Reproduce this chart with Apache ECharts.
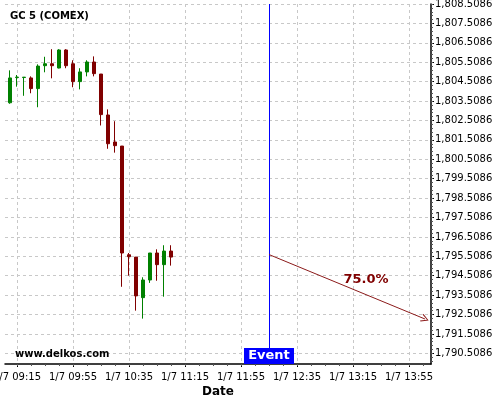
<!DOCTYPE html>
<html><head><meta charset="utf-8">
<script src="https://cdn.jsdelivr.net/npm/echarts@6/dist/echarts.min.js"></script>
<style>html,body{margin:0;padding:0;background:#fff}#c{width:500px;height:400px}</style>
</head><body><div id="c"></div>
<script>
// ---- data ----
const times = ['09:10','09:15','09:20','09:25','09:30','09:35','09:40','09:45','09:50','09:55','10:00','10:05',
               '10:10','10:15','10:20','10:25','10:30','10:35','10:40','10:45','10:50','10:55','11:00','11:05'];
const opens  = [1803.42,1804.72,1804.72,1804.70,1804.15,1805.33,1805.43,1805.21,1806.14,1805.43,1804.51,1805.01,
                1805.52,1804.90,1802.79,1801.40,1801.19,1795.59,1795.47,1793.38,1794.29,1795.68,1795.08,1795.78];
const closes = [1804.70,1804.74,1804.74,1804.15,1805.31,1805.43,1805.33,1806.14,1805.33,1804.51,1805.01,1805.52,
                1804.92,1802.81,1801.31,1801.21,1795.68,1795.49,1793.47,1794.29,1795.68,1795.08,1795.78,1795.47];
const lows   = [1803.37,1804.25,1803.78,1803.91,1803.19,1804.99,1804.68,1805.19,1805.20,1804.22,1804.11,1804.78,
                1804.78,1802.25,1801.05,1800.85,1793.94,1794.51,1792.71,1792.30,1794.14,1794.25,1793.43,1795.03];
const highs  = [1805.09,1804.85,1804.74,1804.78,1805.40,1805.79,1806.18,1806.18,1806.18,1805.61,1805.20,1805.61,
                1805.81,1804.90,1803.08,1802.47,1801.19,1795.68,1795.47,1794.43,1795.68,1795.87,1796.08,1796.08];
const xTickLabels = ['09:15','09:55','10:35','11:15','11:55','12:35','13:15','13:55'];
const yTickValues = [1790.5086,1791.5086,1792.5086,1793.5086,1794.5086,1795.5086,1796.5086,1797.5086,1798.5086,
                     1799.5086,1800.5086,1801.5086,1802.5086,1803.5086,1804.5086,1805.5086,1806.5086,1807.5086,1808.5086];
const eventTime = '12:15';
const eventText = 'Event';
const arrowStart = ['12:15', 1795.60];
const arrowEnd   = ['14:06:24', 1792.28];
const probText = '75.0%';
const probPos = ['13:24:20', 1794.29];
const titleText = 'GC 5 (COMEX)';
const watermark = 'www.delkos.com';

// ---- helpers ----
function toMin(s){const p=s.split(':').map(Number);return p[0]*60+p[1]+(p[2]||0)/60;}
function pad(n){return (n<10?'0':'')+n;}
function fmtTime(v){const m=Math.round(v);return '1/7 '+pad(Math.floor(m/60))+':'+pad(m%60);}
function fmtPrice(v){const s=Number(v).toFixed(4);const [a,b]=s.split('.');return a.replace(/\B(?=(\d{3})+(?!\d))/g,',')+'.'+b;}

const xMin = toMin('09:06:26'), xMax = toMin('14:10:43');
const yMin = 1789.9616, yMax = 1808.5086;
const xTicks = xTickLabels.map(toMin);
const xMinor = []; for (let t = toMin('09:05'); t <= xMax; t += 10) if (t >= xMin) xMinor.push(t);
const yMinor = []; for (let k = 0; k < 200; k++) { const v = 1789.9086 + 0.2*k; if (v >= yMin - 1e-9 && v <= yMax + 1e-9) yMinor.push(+v.toFixed(4)); }

const candleData = times.map((t,i)=>[toMin(t), opens[i], closes[i], lows[i], highs[i]]);

const gridLine = {show:true, lineStyle:{color:'#c8c8c8', width:1, type:[3,3]}};
const font = 'DejaVu Sans';

const chart = echarts.init(document.getElementById('c'), null, {renderer:'canvas'});
chart.setOption({
  animation:false,
  textStyle:{fontFamily:font},
  title:[
    {text:titleText, left:5, top:6, textStyle:{fontSize:10, fontWeight:'bold', color:'#000', fontFamily:font}},
    {text:watermark, left:10, top:344, textStyle:{fontSize:10, fontWeight:'bold', color:'#000', fontFamily:font}}
  ],
  grid:{left:5, right:69, top:4, bottom:36, containLabel:false, outerBoundsMode:'none'},
  xAxis:[
    {type:'value', min:xMin, max:xMax, position:'bottom',
     name:'Date', nameLocation:'middle', nameGap:22, nameMoveOverlap:false,
     nameTextStyle:{fontSize:12, fontWeight:'bold', color:'#000', fontFamily:font},
     axisLine:{show:true, onZero:false, lineStyle:{color:'#000', width:1.5}},
     axisTick:{show:true, customValues:xTicks, length:3, lineStyle:{color:'#000'}},
     axisLabel:{customValues:xTicks, formatter:fmtTime, fontSize:10, color:'#000', margin:8, fontFamily:font},
     splitLine:gridLine},
    {type:'value', min:xMin, max:xMax, position:'bottom', gridIndex:0,
     axisLine:{show:false}, axisLabel:{show:false}, splitLine:{show:false},
     axisTick:{show:true, customValues:xMinor, length:2, lineStyle:{color:'#555'}}}
  ],
  yAxis:[
    {type:'value', min:yMin, max:yMax, position:'right', scale:true,
     axisLine:{show:true, lineStyle:{color:'#000', width:1.5}},
     axisTick:{show:true, customValues:yTickValues, length:3, lineStyle:{color:'#000'}},
     axisLabel:{customValues:yTickValues, formatter:fmtPrice, fontSize:10, color:'#000', margin:4, fontFamily:font},
     splitLine:gridLine},
    {type:'value', min:yMin, max:yMax, position:'right', scale:true,
     axisLine:{show:false}, axisLabel:{show:false}, splitLine:{show:false},
     axisTick:{show:true, customValues:yMinor, length:2, lineStyle:{color:'#555'}}}
  ],
  series:[
    {type:'candlestick', xAxisIndex:0, yAxisIndex:0, data:candleData,
     encode:{x:0, y:[1,2,3,4]}, barWidth:4,
     itemStyle:{color:'#008000', color0:'#800000', borderColor:'#008000', borderColor0:'#800000', borderWidth:1}},
    {type:'scatter', name:'event', xAxisIndex:0, yAxisIndex:0, clip:false, z:5,
     data:[[toMin(eventTime), yMin]],
     symbol:'rect', symbolSize:[50,16], symbolOffset:[0,-8],
     itemStyle:{color:'#0000ff', opacity:1},
     label:{show:true, position:'inside', formatter:eventText, color:'#fff', fontWeight:'bold', fontSize:13, fontFamily:font},
     markLine:{silent:true, symbol:'none', label:{show:false}, animation:false,
       lineStyle:{color:'#0000ff', width:1, type:'solid', opacity:1},
       data:[{xAxis:toMin(eventTime)}]}},
    {type:'scatter', name:'forecast', xAxisIndex:0, yAxisIndex:0, clip:false, z:5,
     data:[[toMin(probPos[0]), probPos[1]]], symbolSize:0,
     itemStyle:{opacity:1},
     label:{show:true, position:'inside', formatter:probText, color:'#800000', fontWeight:'bold', fontSize:13, fontFamily:font},
     markLine:{silent:true, animation:false,
       symbol:['none','path://M5,0 L10,9 L9,10 L5,2.2 L1,10 L0,9 Z'], symbolSize:[8,8],
       label:{show:false},
       lineStyle:{color:'#8b1a1a', width:1, type:'solid', opacity:1},
       data:[[{coord:[toMin(arrowStart[0]), arrowStart[1]]},{coord:[toMin(arrowEnd[0]), arrowEnd[1]]}]]}}
  ]
});
</script></body></html>
